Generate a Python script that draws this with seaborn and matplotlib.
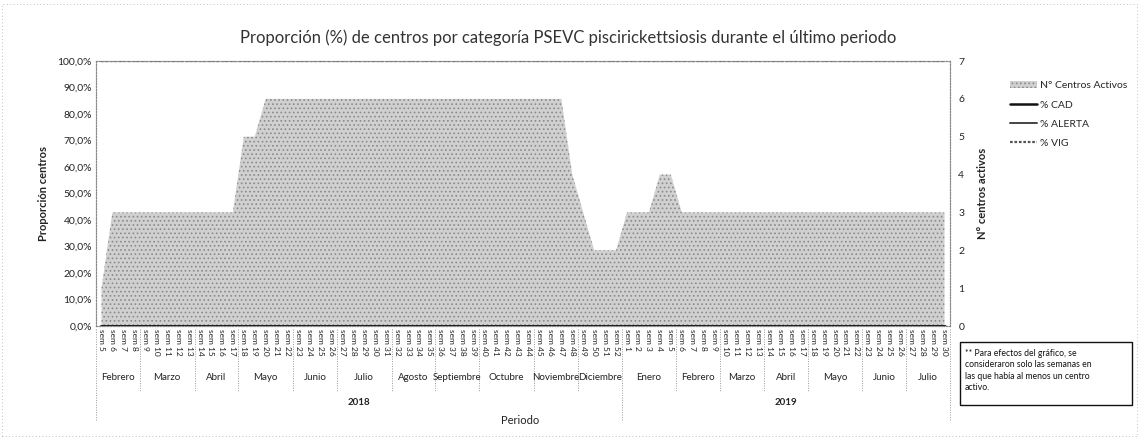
import numpy as np
import pandas as pd
import matplotlib
matplotlib.use("Agg")
import matplotlib.pyplot as plt
import matplotlib.transforms as mtransforms
from matplotlib.patches import Rectangle, Patch
from matplotlib.lines import Line2D
import seaborn as sns

# ---------------- data ----------------
weeks_2018 = list(range(5, 53))
weeks_2019 = list(range(1, 31))
week_labels = [f"sem {w}" for w in weeks_2018] + [f"sem {w}" for w in weeks_2019]

centros_2018 = [1] + [3] * 12 + [5, 5] + [6] * 28 + [4, 3, 2, 2, 2]
centros_2019 = [3, 3, 3, 4, 4] + [3] * 25
centros_activos = centros_2018 + centros_2019

pct_cad = [0.0] * len(week_labels)
pct_alerta = [0.0] * len(week_labels)
pct_vig = [100.0] * len(week_labels)

months_2018 = ["Febrero", "Marzo", "Abril", "Mayo", "Junio", "Julio", "Agosto",
               "Septiembre", "Octubre", "Noviembre", "Diciembre"]
month_len_2018 = [4, 5, 4, 5, 4, 5, 4, 4, 5, 4, 4]
months_2019 = ["Enero", "Febrero", "Marzo", "Abril", "Mayo", "Junio", "Julio"]
month_len_2019 = [5, 4, 4, 4, 5, 4, 4]
years = ["2018", "2019"]

left_ticks = list(range(0, 101, 10))
right_ticks = list(range(0, 8))

# ---------------- style ----------------
sns.set_theme(style="white")
plt.rcParams['font.family'] = ['Lato', 'DejaVu Sans']
plt.rcParams['hatch.linewidth'] = 0.7

AREA_FC, AREA_HC = "#d0d0d0", "#8a8a8a"

W, H = 1141, 438
fig = plt.figure(figsize=(W / 100, H / 100), dpi=100)
L, R, T, B = 96, 950, 61, 326
ax = fig.add_axes([L / W, 1 - B / H, (R - L) / W, (B - T) / H])
ax2 = ax.twinx()

n = len(week_labels)
x = np.arange(n)
df = pd.DataFrame({"x": x, "centros": centros_activos, "CAD": pct_cad,
                   "ALERTA": pct_alerta, "VIG": pct_vig})

# area on the secondary axis
ax2.fill_between(df["x"], 0, df["centros"], facecolor=AREA_FC,
                 edgecolor=AREA_HC, hatch="....", linewidth=0.0)
ax2.set_ylim(0, 7)
ax2.set_yticks(right_ticks)
ax2.set_yticklabels([str(t) for t in right_ticks], fontsize=7.5, color="#222222")
ax2.set_ylabel("N° centros activos", fontsize=8, fontweight="bold", color="#222222",
               labelpad=9)

# lines on primary axis, drawn above area
ax.set_zorder(ax2.get_zorder() + 1)
ax.patch.set_visible(False)
sns.lineplot(data=df, x="x", y="VIG", ax=ax, color="#555555", linewidth=1.6,
             linestyle=(0, (1.2, 0.8)), legend=False)
sns.lineplot(data=df, x="x", y="ALERTA", ax=ax, color="#444444", linewidth=1.4,
             legend=False)
sns.lineplot(data=df, x="x", y="CAD", ax=ax, color="#111111", linewidth=1.8,
             legend=False)
ax.set_ylim(0, 100)
ax.set_xlim(-0.5, n - 0.5)
ax.set_yticks(left_ticks)
ax.set_yticklabels([f"{t:.1f}%".replace(".", ",") for t in left_ticks],
                   fontsize=7.5, color="#222222")
ax.set_ylabel("Proporción centros", fontsize=8, fontweight="bold", color="#222222",
              labelpad=6)
ax.set_xlabel("")
ax.set_xticks(x)
ax.set_xticklabels(week_labels, rotation=-90, fontsize=6, color="#222222")
ax.tick_params(axis="x", length=0, pad=2)
ax.tick_params(axis="y", length=0, pad=3)
ax2.tick_params(axis="y", length=0, pad=6)

for a in (ax, ax2):
    for s in a.spines.values():
        s.set_linestyle((0, (1, 1.5)))
        s.set_color("#888888")
        s.set_linewidth(0.8)

# month / year labels and separators
trans = mtransforms.blended_transform_factory(ax.transData, ax.transAxes)
start = 0
bounds = [0]
for names, lens in ((months_2018, month_len_2018), (months_2019, month_len_2019)):
    for name, ln in zip(names, lens):
        c = start + (ln - 1) / 2
        ax.text(c, -0.196, name, transform=trans, ha="center", va="center",
                fontsize=7, color="#222222")
        start += ln
        bounds.append(start)
year_bounds = [0, len(weeks_2018), n]
for b in bounds:
    yb = -0.36 if b in year_bounds else -0.25
    ax.plot([b - 0.5, b - 0.5], [-0.01, yb], transform=trans, clip_on=False,
            color="#999999", linewidth=0.7, linestyle=(0, (1, 1.5)))
for yname, a0, a1 in zip(years, year_bounds[:-1], year_bounds[1:]):
    ax.text((a0 + a1 - 1) / 2, -0.287, yname, transform=trans, ha="center",
            va="center", fontsize=7, fontweight="bold", color="#222222")

fig.text(520 / W, 1 - 421 / H, "Periodo", ha="center", va="center", fontsize=8,
         color="#222222")
fig.text(568 / W, 1 - 38 / H,
         "Proporción (%) de centros por categoría PSEVC piscirickettsiosis durante el último periodo",
         ha="center", va="center", fontsize=12, color="#333333")

# legend
handles = [
    Patch(facecolor=AREA_FC, edgecolor=AREA_HC, hatch="....", linewidth=0),
    Line2D([], [], color="#111111", linewidth=1.8),
    Line2D([], [], color="#444444", linewidth=1.4),
    Line2D([], [], color="#555555", linewidth=1.6, linestyle=(0, (1.2, 0.8))),
]
labels = ["N° Centros Activos", "% CAD", "% ALERTA", "% VIG"]
fig.legend(handles, labels, loc="upper left", bbox_to_anchor=(1006 / W, 1 - 77 / H),
           frameon=False, fontsize=7.5, handlelength=2.6, handletextpad=0.3,
           labelspacing=0.95, borderaxespad=0)

# note box
fig.patches.append(Rectangle((960 / W, 1 - 405 / H), 172 / W, 63 / H,
                             transform=fig.transFigure, fill=False,
                             edgecolor="#111111", linewidth=1.0))
fig.text(965 / W, 1 - 349 / H,
         "** Para efectos del gráfico, se\nconsideraron solo las semanas en\nlas que había al menos un centro\nactivo.",
         ha="left", va="top", fontsize=6.2, color="#111111", linespacing=1.35)

# outer dotted chart border
fig.patches.append(Rectangle((2 / W, 2 / H), (W - 6) / W, (H - 6) / H,
                             transform=fig.transFigure, fill=False,
                             edgecolor="#aaaaaa", linewidth=0.6,
                             linestyle=(0, (1, 3))))

fig.savefig("out.png", dpi=100)
